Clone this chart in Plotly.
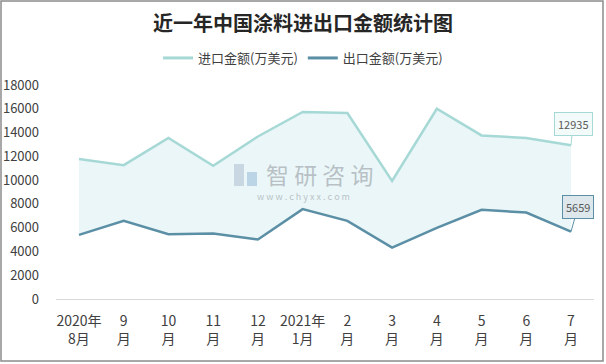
import plotly.graph_objects as go

categories = ["2020年<br>8月", "9<br>月", "10<br>月", "11<br>月", "12<br>月", "2021年<br>1月",
              "2<br>月", "3<br>月", "4<br>月", "5<br>月", "6<br>月", "7<br>月"]
imports = [11770, 11260, 13540, 11200, 13670, 15730, 15640, 9940, 16000, 13760, 13540, 12935]
exports = [5390, 6570, 5450, 5500, 5000, 7560, 6570, 4320, 5980, 7500, 7270, 5659]
yticks = [0, 2000, 4000, 6000, 8000, 10000, 12000, 14000, 16000, 18000]

imp_color = "#a6d9d6"
exp_color = "#5b8fa5"
FONT = "Noto Sans CJK SC"

x = list(range(len(categories)))
fig = go.Figure()
fig.add_trace(go.Scatter(x=x, y=exports, mode="lines", name="出口金额(万美元)",
                         line=dict(color=exp_color, width=2.5), showlegend=False))
fig.add_trace(go.Scatter(x=x, y=imports, mode="lines", name="进口金额(万美元)",
                         line=dict(color=imp_color, width=2.5), fill="tonexty",
                         fillcolor="rgba(220,240,241,0.6)", showlegend=False))
# legend entries (line symbols only)
fig.add_trace(go.Scatter(x=[None], y=[None], mode="lines", name="进口金额(万美元)",
                         line=dict(color=imp_color, width=3)))
fig.add_trace(go.Scatter(x=[None], y=[None], mode="lines", name="出口金额(万美元)",
                         line=dict(color=exp_color, width=3)))

L, R, T, B = 56, 12, 85, 65
W, H = 606, 364
pw, ph = W - L - R, H - T - B

def px(xp):
    return (xp - L) / pw

def py(yp):
    return (H - B - yp) / ph

fig.update_layout(
    width=W, height=H,
    margin=dict(l=L, r=R, t=T, b=B, autoexpand=False),
    paper_bgcolor="white", plot_bgcolor="white",
    font=dict(family=FONT, color="#404040", size=13),
    title=dict(text="<b>近一年中国涂料进出口金额统计图</b>", x=0.5, xanchor="center",
               y=1 - 24 / H, yanchor="middle", font=dict(size=20, color="#262626", family=FONT)),
    legend=dict(orientation="h", x=px(303), xanchor="center", y=py(58), yanchor="middle",
                traceorder="normal",
                font=dict(size=13, color="#404040"), itemwidth=30),
    showlegend=True,
    xaxis=dict(tickmode="array", tickvals=x, ticktext=categories, range=[-0.514, 11.514],
               showgrid=False, showline=True, linecolor="#d9d9d9", linewidth=1, ticks="",
               tickfont=dict(size=14, color="#404040"), zeroline=False, ticklabelstandoff=9,
               automargin=False),
    yaxis=dict(range=[0, 18000], tickvals=yticks, tickformat="d", showgrid=False, showline=False,
               zeroline=False, tickfont=dict(size=13, color="#404040"), ticklabelstandoff=16,
               automargin=False),
)

fig.add_annotation(x=11, y=imports[-1], text=str(imports[-1]), showarrow=True, ax=2, ay=-21,
                   arrowhead=0, arrowcolor=imp_color, arrowwidth=1, bgcolor="#f2fafa",
                   bordercolor=imp_color, borderwidth=1, borderpad=3,
                   font=dict(size=11, color="#595959"))
fig.add_annotation(x=11, y=exports[-1], text=str(exports[-1]), showarrow=True, ax=7, ay=-25,
                   arrowhead=0, arrowcolor=exp_color, arrowwidth=1, bgcolor="#dde7ec",
                   bordercolor=exp_color, borderwidth=1, borderpad=3,
                   font=dict(size=11, color="#595959"))

# watermark
wm = "rgba(150,156,165,0.6)"
fig.add_annotation(xref="paper", yref="paper", x=px(319), y=py(174),
                   text="智 研 咨 询", showarrow=False,
                   font=dict(size=23, color=wm, family=FONT))
fig.add_annotation(xref="paper", yref="paper", x=px(303), y=py(196),
                   text="w w w . c h y x x . c o m", showarrow=False,
                   font=dict(size=9, color=wm, family=FONT))
fig.add_shape(type="rect", xref="paper", yref="paper", x0=px(234), x1=px(244), y0=py(186), y1=py(164),
              fillcolor="rgba(160,178,200,0.45)", line=dict(width=0))
fig.add_shape(type="rect", xref="paper", yref="paper", x0=px(247), x1=px(257), y0=py(186), y1=py(172),
              fillcolor="rgba(140,180,215,0.5)", line=dict(width=0))

# outer border
fig.add_shape(type="rect", xref="paper", yref="paper",
              x0=px(1), x1=px(W - 3), y0=py(H - 3), y1=py(1),
              line=dict(color="#8c8c8c", width=1.5))

fig.write_html("out.html", config={"displayModeBar": False},
               post_script="document.body.style.margin='0';document.body.style.overflow='hidden';")
